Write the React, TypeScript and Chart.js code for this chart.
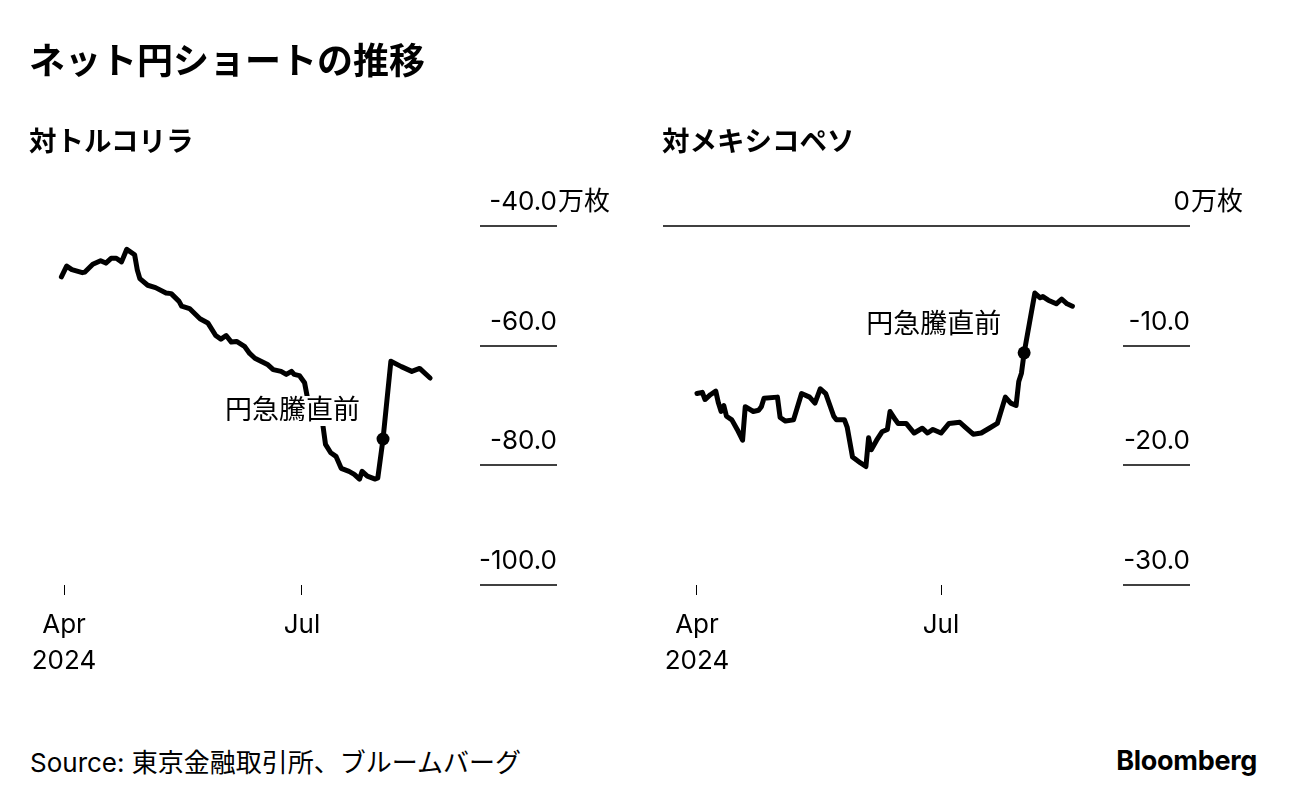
import React, { useEffect, useRef } from 'react';
import { Chart, registerables } from 'chart.js';

Chart.register(...registerables);

const LATIN = 'Inter, "Noto Sans CJK JP", sans-serif';

// ネット円ショート 対トルコリラ (万枚)
const tryDates = [
  '2024-03-31', '2024-04-02', '2024-04-04', '2024-04-08', '2024-04-09', '2024-04-12',
  '2024-04-15', '2024-04-17', '2024-04-19', '2024-04-21', '2024-04-23', '2024-04-25',
  '2024-04-28', '2024-04-29', '2024-04-30', '2024-05-03', '2024-05-06', '2024-05-10',
  '2024-05-12', '2024-05-15', '2024-05-16', '2024-05-19', '2024-05-23', '2024-05-26',
  '2024-05-29', '2024-05-31', '2024-06-02', '2024-06-04', '2024-06-06', '2024-06-09',
  '2024-06-11', '2024-06-13', '2024-06-18', '2024-06-20', '2024-06-23', '2024-06-25',
  '2024-06-27', '2024-06-28', '2024-06-30', '2024-07-02', '2024-07-03', '2024-07-05',
  '2024-07-08', '2024-07-09', '2024-07-10', '2024-07-12', '2024-07-14', '2024-07-16',
  '2024-07-19', '2024-07-21', '2024-07-23', '2024-07-24', '2024-07-26', '2024-07-29',
  '2024-07-30', '2024-08-01', '2024-08-04', '2024-08-08', '2024-08-12', '2024-08-15',
  '2024-08-19',
];
const tryValues = [
  -48.5, -46.7, -47.3, -47.8, -47.7, -46.4,
  -45.8, -46.2, -45.4, -45.4, -46.0, -43.9,
  -44.8, -47.3, -48.8, -49.9, -50.3, -51.2,
  -51.3, -52.6, -53.4, -53.8, -55.5, -56.2,
  -58.3, -58.9, -58.3, -59.4, -59.3, -60.1,
  -61.3, -62.1, -63.2, -64.0, -64.3, -64.8,
  -64.3, -64.8, -65.0, -66.2, -68.5, -70.3,
  -72.7, -73.3, -76.5, -77.9, -78.5, -80.5,
  -81.0, -81.5, -82.3, -81.0, -81.8, -82.3,
  -82.1, -75.6, -62.6, -63.5, -64.3, -63.8,
  -65.4,
];

// ネット円ショート 対メキシコペソ (万枚)
const mxnDates = [
  '2024-04-01', '2024-04-03', '2024-04-04', '2024-04-06', '2024-04-08', '2024-04-09',
  '2024-04-10', '2024-04-11', '2024-04-12', '2024-04-14', '2024-04-16', '2024-04-18',
  '2024-04-19', '2024-04-22', '2024-04-24', '2024-04-25', '2024-04-26', '2024-05-01',
  '2024-05-02', '2024-05-04', '2024-05-07', '2024-05-10', '2024-05-13', '2024-05-15',
  '2024-05-17', '2024-05-19', '2024-05-22', '2024-05-23', '2024-05-26', '2024-05-27',
  '2024-05-29', '2024-06-01', '2024-06-03', '2024-06-04', '2024-06-05', '2024-06-07',
  '2024-06-09', '2024-06-11', '2024-06-12', '2024-06-14', '2024-06-15', '2024-06-18',
  '2024-06-21', '2024-06-24', '2024-06-26', '2024-06-28', '2024-07-01', '2024-07-04',
  '2024-07-08', '2024-07-10', '2024-07-13', '2024-07-16', '2024-07-19', '2024-07-22',
  '2024-07-25', '2024-07-27', '2024-07-29', '2024-07-30', '2024-07-31', '2024-08-01',
  '2024-08-03', '2024-08-05', '2024-08-07', '2024-08-08', '2024-08-10', '2024-08-13',
  '2024-08-15', '2024-08-17', '2024-08-19',
];
const mxnValues = [
  -14.0, -13.9, -14.5, -14.1, -13.8, -14.8,
  -15.5, -15.0, -15.9, -16.2, -17.0, -17.9,
  -15.1, -15.5, -15.4, -15.1, -14.4, -14.3,
  -16.0, -16.3, -16.2, -14.0, -14.3, -14.8,
  -13.6, -14.0, -15.9, -16.2, -16.2, -16.8,
  -19.3, -19.8, -20.1, -17.7, -18.7, -17.9,
  -17.2, -17.0, -15.5, -16.2, -16.5, -16.5,
  -17.3, -16.9, -17.3, -17.0, -17.3, -16.5,
  -16.4, -16.8, -17.4, -17.3, -16.9, -16.5,
  -14.3, -14.8, -15.0, -13.0, -12.3, -10.6,
  -8.1, -5.6, -6.0, -5.9, -6.2, -6.5,
  -6.1, -6.5, -6.7,
];

const xTickDates = ['2024-04-01', '2024-07-01'];
const xTickLabels: (string | string[])[] = [['Apr', '2024'], 'Jul'];
const tryYTicks = [-40, -60, -80, -100];
const mxnYTicks = [0, -10, -20, -30];
const xStartDate = '2024-03-31';
const xEndDate = '2024-08-19';
const surgeDate = '2024-08-01';
const surgeLabel = '円急騰直前';
const unitLabel = '万枚';

const ORIGIN = Date.parse('2024-04-01');
const toDay = (d: string) => Math.round((Date.parse(d) - ORIGIN) / 86400000);

const fmt = (v: number) => (v === 0 ? '0' : v.toFixed(1));

const panelPlugin = {
  id: 'panel',
  afterDatasetsDraw(chart: any, _args: any, opts: any) {
    const { ctx } = chart;
    const ys = chart.scales.y;
    const xs = chart.scales.x;
    ctx.save();
    // y gridlines + labels
    ctx.font = `26px ${LATIN}`;
    ctx.fillStyle = '#000';
    ctx.strokeStyle = '#000';
    ctx.lineWidth = 1.5;
    (opts.ticks as number[]).forEach((v, i) => {
      const py = Math.round(ys.getPixelForValue(v));
      const x0 = v === 0 && opts.zeroLeft != null ? opts.zeroLeft : opts.gridLeft;
      ctx.beginPath();
      ctx.moveTo(x0, py);
      ctx.lineTo(opts.labelRight, py);
      ctx.stroke();
      ctx.textBaseline = 'alphabetic';
      ctx.textAlign = 'right';
      ctx.fillText(fmt(v), opts.labelRight, py - 16);
      if (i === 0) {
        ctx.textAlign = 'left';
        ctx.fillText(unitLabel, opts.labelRight + 1, py - 16);
      }
    });
    // annotation
    const idx = opts.dates.indexOf(surgeDate);
    if (idx >= 0) {
      const dx = xs.getPixelForValue(toDay(surgeDate));
      const dy = ys.getPixelForValue(opts.values[idx]);
      ctx.font = `27px ${LATIN}`;
      const w = ctx.measureText(surgeLabel).width;
      const tx = dx - 23;
      const ty = dy - 28;
      ctx.fillStyle = '#fff';
      ctx.fillRect(tx - w - 3, ty - 15, w + 5, 30);
      ctx.fillStyle = '#000';
      ctx.textAlign = 'right';
      ctx.textBaseline = 'middle';
      ctx.fillText(surgeLabel, tx, ty);
    }
    ctx.restore();
  },
};

type PanelProps = {
  dates: string[];
  values: number[];
  yTicks: number[];
  padLeft: number;
  padRight: number;
  labelRight: number;
  gridLeft: number;
  zeroLeft?: number;
  left: number;
};

function Panel(p: PanelProps) {
  const ref = useRef<HTMLCanvasElement>(null);
  useEffect(() => {
    const chart = new Chart(ref.current as HTMLCanvasElement, {
      type: 'line',
      data: {
        datasets: [
          {
            data: p.dates.map((d, i) => ({ x: toDay(d), y: p.values[i] })),
            borderColor: '#000',
            borderWidth: 5,
            tension: 0,
            borderJoinStyle: 'round',
            borderCapStyle: 'round',
            pointRadius: (c: any) => (p.dates[c.dataIndex] === surgeDate ? 6.5 : 0),
            pointBackgroundColor: '#000',
            pointBorderWidth: 0,
            clip: false as any,
          } as any,
        ],
      },
      options: {
        responsive: false,
        animation: false,
        events: [],
        layout: { padding: { left: p.padLeft, right: p.padRight, top: 226, bottom: 35 } },
        plugins: {
          legend: { display: false },
          tooltip: { enabled: false },
          panel: {
            ticks: p.yTicks,
            labelRight: p.labelRight,
            gridLeft: p.gridLeft,
            zeroLeft: p.zeroLeft,
            dates: p.dates,
            values: p.values,
          },
        } as any,
        scales: {
          x: {
            type: 'linear',
            min: toDay(xStartDate),
            max: toDay(xEndDate),
            afterBuildTicks: (s: any) => {
              s.ticks = xTickDates.map((d) => ({ value: toDay(d) }));
            },
            afterFit: (s: any) => {
              s.height = 100;
            },
            grid: { drawOnChartArea: false, drawTicks: true, tickLength: 10, color: '#000', lineWidth: 1 },
            border: { display: false },
            ticks: {
              autoSkip: false,
              maxRotation: 0,
              padding: 12,
              color: '#000',
              font: { family: LATIN, size: 26, lineHeight: 36 / 26 },
              callback: (v: any) => {
                const i = xTickDates.findIndex((d) => toDay(d) === v);
                return i >= 0 ? (xTickLabels[i] as any) : '';
              },
            },
          },
          y: {
            display: false,
            min: Math.min(...p.yTicks),
            max: Math.max(...p.yTicks),
          },
        },
      } as any,
      plugins: [panelPlugin as any],
    });
    return () => chart.destroy();
  }, []);
  return (
    <canvas
      ref={ref}
      width={648}
      height={720}
      style={{ position: 'absolute', left: p.left, top: 0, width: 648, height: 720 }}
    />
  );
}

const textBase: React.CSSProperties = {
  position: 'absolute',
  lineHeight: 1,
  whiteSpace: 'nowrap',
  color: '#000',
  fontFamily: LATIN,
};

export default function App() {
  return (
    <div style={{ position: 'fixed', left: 0, top: 0, width: 1296, height: 806, background: '#fff', overflow: 'hidden' }}>
      <Panel
        dates={tryDates}
        values={tryValues}
        yTicks={tryYTicks}
        padLeft={61.4}
        padRight={217.9}
        labelRight={557}
        gridLeft={480}
        left={0}
      />
      <Panel
        dates={mxnDates}
        values={mxnValues}
        yTicks={mxnYTicks}
        padLeft={46.3}
        padRight={223.6}
        labelRight={542}
        gridLeft={475}
        zeroLeft={15}
        left={648}
      />
      <div style={{ ...textBase, left: 29, top: 43, fontSize: 36, fontWeight: 700 }}>ネット円ショートの推移</div>
      <div style={{ ...textBase, left: 29, top: 128, fontSize: 27.5, fontWeight: 700 }}>対トルコリラ</div>
      <div style={{ ...textBase, left: 662, top: 128, fontSize: 27.5, fontWeight: 700 }}>対メキシコペソ</div>
      <div style={{ ...textBase, left: 30, top: 750, fontSize: 26 }}>Source: 東京金融取引所、ブルームバーグ</div>
      <div style={{ ...textBase, right: 39, top: 747, fontSize: 27, fontWeight: 700, letterSpacing: -0.3 }}>Bloomberg</div>
    </div>
  );
}
